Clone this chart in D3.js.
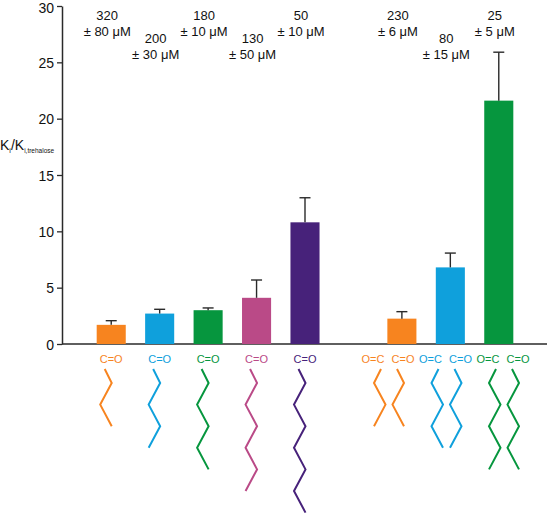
<!DOCTYPE html>
<html>
<head>
<meta charset="utf-8">
<script src="https://cdn.jsdelivr.net/npm/d3@7"></script>
<style>
  html, body { margin: 0; padding: 0; background: #fff; }
  svg { display: block; font-family: "Liberation Sans", Arial, sans-serif; }
</style>
</head>
<body>
<svg id="chart" width="550" height="518"></svg>
<script>
// ---------- data ----------
const categories = ["C4", "C5", "C6", "C7", "C8", "", "diC4", "diC5", "diC6"];
const barKeys    = ["C4", "C5", "C6", "C7", "C8", "diC4", "diC5", "diC6"];
const ratioValues = [1.7, 2.7, 3.0, 4.1, 10.8, 2.25, 6.8, 21.6];
const ratioErrors = [0.37, 0.38, 0.2, 1.58, 2.18, 0.62, 1.27, 4.3];
const kiValues   = ["320", "200", "180", "130", "50", "230", "80", "25"];
const kiErrors   = ["80", "30", "10", "50", "10", "6", "15", "5"];
const groups     = [1, 1, 1, 1, 1, 2, 2, 2];
const chainSegments = [3, 4, 5, 6, 7, 3, 4, 5];
const barColors  = ["#f7841f", "#0fa0dc", "#06963e", "#ba4a87", "#47227a", "#f7841f", "#0fa0dc", "#06963e"];
const yTicks = [0, 5, 10, 15, 20, 25, 30];

// ---------- layout ----------
const svg = d3.select("#chart");
const x = d3.scaleBand().domain(categories).range([87, 523]).paddingInner(0.4).paddingOuter(0.2);
const y = d3.scaleLinear().domain([0, 30]).range([344, 6]);
const axisColor = "#2a2a2a";

const bars = barKeys.map((k, i) => ({
  key: k, v: ratioValues[i], e: ratioErrors[i], ki: kiValues[i], kie: kiErrors[i],
  group: groups[i], seg: chainSegments[i], color: barColors[i]
}));
// alternate label rows within each group
const idxInGroup = {};
bars.forEach(b => { idxInGroup[b.group] = (idxInGroup[b.group] || 0); b.row = idxInGroup[b.group] % 2; idxInGroup[b.group]++; });

// y axis
const yAxis = svg.append("g").attr("transform", "translate(62,0)")
  .call(d3.axisLeft(y).tickValues(yTicks).tickSize(5).tickPadding(3).tickSizeOuter(0));
yAxis.select(".domain").attr("stroke", axisColor).attr("stroke-width", 1.5);
yAxis.selectAll(".tick line").attr("stroke", axisColor).attr("stroke-width", 1.3);
yAxis.selectAll(".tick text").attr("fill", "#111").style("font-size", "14px")
  .style("font-family", "Liberation Sans, Arial, sans-serif")
  .attr("dy", null)
  .attr("y", d => Math.max(5, 12.8 - y(d)));

// x axis baseline
svg.append("line").attr("x1", 62).attr("x2", 547).attr("y1", y(0)).attr("y2", y(0))
  .attr("stroke", axisColor).attr("stroke-width", 1.5);

// y label
const yl = svg.append("text").attr("x", 0).attr("y", 150).attr("fill", "#111").style("font-size", "14px");
yl.append("tspan").text("K");
yl.append("tspan").attr("dy", 3).style("font-size", "7px").text("i");
yl.append("tspan").attr("dy", -3).text("/K");
yl.append("tspan").attr("dy", 3).style("font-size", "6.5px").text("i,trehalose");

// bars
const bw = x.bandwidth();
svg.append("g").selectAll("rect").data(bars).join("rect")
  .attr("x", d => x(d.key)).attr("width", bw)
  .attr("y", d => y(d.v)).attr("height", d => y(0) - y(d.v))
  .attr("fill", d => d.color);

// error bars (upper only)
const eg = svg.append("g").attr("stroke", axisColor).attr("stroke-width", 1.4);
eg.selectAll("line.v").data(bars).join("line").attr("class", "v")
  .attr("x1", d => x(d.key) + bw / 2).attr("x2", d => x(d.key) + bw / 2)
  .attr("y1", d => y(d.v)).attr("y2", d => y(d.v + d.e));
eg.selectAll("line.c").data(bars).join("line").attr("class", "c")
  .attr("x1", d => x(d.key) + bw / 2 - 5.5).attr("x2", d => x(d.key) + bw / 2 + 5.5)
  .attr("y1", d => y(d.v + d.e)).attr("y2", d => y(d.v + d.e));

// Ki labels
const lg = svg.append("g").attr("fill", "#111").style("font-size", "13px").attr("text-anchor", "middle");
bars.forEach(b => {
  const cx = x(b.key) + bw / 2 - 4;
  const by = 19.5 + b.row * 23;
  lg.append("text").attr("x", cx).attr("y", by).text(b.ki);
  lg.append("text").attr("x", cx).attr("y", by + 16.5).text("± " + b.kie + " μM");
});

// molecule drawings
const doubles = bars.filter(b => b.group === 2).map(b => b.key);
const pairMid = d3.scalePoint().domain(doubles).range([388, 503]);
const chainY = k => k === 0 ? 369 : 383 + (k - 1) * 21.6;
function chain(cx, s, n) {
  const pts = [[cx + s * -6.5, chainY(0)]];
  for (let k = 1; k <= n; k++) pts.push([cx + s * (k % 2 === 1 ? 0.5 : -11), chainY(k)]);
  return pts;
}
const line = d3.line();
const mg = svg.append("g");
bars.forEach(b => {
  if (b.group === 1) {
    const cx = x(b.key) + bw / 2;
    mg.append("text").attr("x", cx).attr("y", 363).attr("text-anchor", "middle")
      .attr("fill", b.color).style("font-size", "11px").text("C=O");
    mg.append("path").attr("d", line(chain(cx, 1, b.seg))).attr("fill", "none")
      .attr("stroke", b.color).attr("stroke-width", 2);
  } else {
    const mid = pairMid(b.key);
    mg.append("text").attr("x", mid - 15).attr("y", 363).attr("text-anchor", "middle")
      .attr("fill", b.color).style("font-size", "11px").text("O=C");
    mg.append("text").attr("x", mid + 15).attr("y", 363).attr("text-anchor", "middle")
      .attr("fill", b.color).style("font-size", "11px").text("C=O");
    mg.append("path").attr("d", line(chain(mid + 15.5, 1, b.seg))).attr("fill", "none")
      .attr("stroke", b.color).attr("stroke-width", 2);
    mg.append("path").attr("d", line(chain(mid - 13.5, -1, b.seg))).attr("fill", "none")
      .attr("stroke", b.color).attr("stroke-width", 2);
  }
});
</script>
</body>
</html>
